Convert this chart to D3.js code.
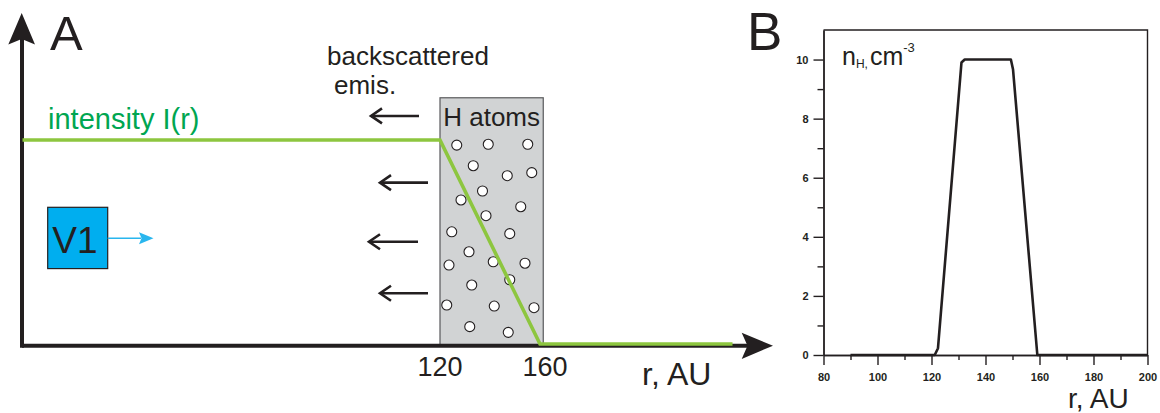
<!DOCTYPE html>
<html>
<head>
<meta charset="utf-8">
<script src="https://cdn.jsdelivr.net/npm/d3@7/dist/d3.min.js"></script>
<style>
html,body{margin:0;padding:0;background:#fff;}
svg{display:block;font-family:"Liberation Sans",Arial,Helvetica,sans-serif;}
</style>
</head>
<body>
<svg id="chart" width="1160" height="413"></svg>
<script>
// ---------- Panel A data (schematic) ----------
const intensityR = [-47, 120, 160, 237];      // r, AU
const intensityI = [1, 1, 0, 0];              // relative intensity
const atomsBoxR = [120, 161.3];               // H atoms region
const atomsBoxTop = 1.207;
const atomR = [126.7,139.3,155.1,133.3,146.9,156.7,137.0,128.4,152.3,138.4,124.7,147.9,131.6,141.3,154.0,123.6,147.9,132.7,122.7,141.7,157.6,131.9,147.3];
const atomH = [0.975,0.979,0.979,0.874,0.825,0.840,0.750,0.706,0.673,0.629,0.550,0.541,0.452,0.403,0.396,0.387,0.315,0.289,0.191,0.186,0.178,0.085,0.057];
const backArrowTipR  = [92.0, 95.6, 91.2, 95.6];
const backArrowTailR = [111.6, 115.2, 111.2, 115.2];
const backArrowH     = [1.118, 0.791, 0.501, 0.249];
const tickLabelsA = ["120", "160"];
const tickValuesA = [120, 160];

// ---------- Panel B data ----------
const nhR = [90, 121.2, 122.4, 131.1, 132.3, 149.4, 150.2, 159.2, 200];
const nhV = [0, 0, 0.23, 9.9, 10, 10, 9.66, 0, 0];
const xTicksB = [80, 100, 120, 140, 160, 180, 200];
const xMinorB = [90, 110, 130, 150, 170, 190];
const yTicksB = [0, 2, 4, 6, 8, 10];
const yMinorB = [1, 3, 5, 7, 9];

const BLACK = "#231f20";
const svg = d3.select("#chart");

// ================= PANEL A =================
const xA = d3.scaleLinear().domain([120, 160]).range([440, 540]);
const yA = d3.scaleLinear().domain([0, 1]).range([344, 140]);
const gA = svg.append("g");

// H atoms box
gA.append("rect")
  .attr("x", xA(atomsBoxR[0])).attr("y", yA(atomsBoxTop))
  .attr("width", xA(atomsBoxR[1]) - xA(atomsBoxR[0]))
  .attr("height", yA(0) - yA(atomsBoxTop) + 1)
  .attr("fill", "#d1d3d4").attr("stroke", "#58595b").attr("stroke-width", 1.2);

gA.append("text").attr("x", (xA(atomsBoxR[0]) + xA(atomsBoxR[1])) / 2).attr("y", 126)
  .attr("text-anchor", "middle").attr("font-size", 26).attr("fill", BLACK).text("H atoms");

// atoms
gA.selectAll("circle.atom").data(atomR.map((r, i) => [r, atomH[i]])).join("circle")
  .attr("class", "atom")
  .attr("cx", d => xA(d[0])).attr("cy", d => yA(d[1])).attr("r", 5)
  .attr("fill", "#fff").attr("stroke", BLACK).attr("stroke-width", 1.1);

// axes (arrows)
gA.append("line").attr("x1", 22).attr("x2", 750).attr("y1", 345.7).attr("y2", 345.7)
  .attr("stroke", BLACK).attr("stroke-width", 4);
gA.append("line").attr("x1", 22).attr("x2", 22).attr("y1", 347.7).attr("y2", 38)
  .attr("stroke", BLACK).attr("stroke-width", 4);
gA.append("path").attr("d", "M21.7,13 L35,44.5 L21.7,39 L8.3,44.5 Z").attr("fill", BLACK);
gA.append("path").attr("d", "M773,345.7 L741.7,332.7 L747.5,345.7 L741.7,359 Z").attr("fill", BLACK);

// intensity line
const lineA = d3.line().x(d => xA(d[0])).y(d => yA(d[1]));
gA.append("path").datum(intensityR.map((r, i) => [r, intensityI[i]]))
  .attr("d", lineA).attr("fill", "none").attr("stroke", "#8dc63f")
  .attr("stroke-width", 3.6).attr("stroke-linejoin", "miter");

gA.append("text").attr("x", 48).attr("y", 129).attr("font-size", 29)
  .attr("fill", "#00a651").text("intensity I(r)");

// backscatter arrows
backArrowH.forEach((h, i) => {
  const y = yA(h), x1 = xA(backArrowTipR[i]), x2 = xA(backArrowTailR[i]);
  gA.append("line").attr("x1", x1 + 1).attr("x2", x2).attr("y1", y).attr("y2", y)
    .attr("stroke", BLACK).attr("stroke-width", 2.6);
  gA.append("path").attr("d", `M${x1 + 12},${y - 7.5} L${x1 + 1},${y} L${x1 + 12},${y + 7.5}`)
    .attr("fill", "none").attr("stroke", BLACK).attr("stroke-width", 2.6);
});

gA.append("text").attr("x", 327).attr("y", 65).attr("font-size", 26).attr("fill", BLACK).text("backscattered");
gA.append("text").attr("x", 334).attr("y", 94).attr("font-size", 26).attr("fill", BLACK).text("emis.");

// V1
gA.append("rect").attr("x", 47.7).attr("y", 207.3).attr("width", 60).attr("height", 61.3)
  .attr("fill", "#00aeef").attr("stroke", BLACK).attr("stroke-width", 1.2);
gA.append("text").attr("x", 75).attr("y", 253.3).attr("text-anchor", "middle")
  .attr("font-size", 37).attr("fill", BLACK).text("V1");
gA.append("line").attr("x1", 107.7).attr("x2", 141).attr("y1", 238.3).attr("y2", 238.3)
  .attr("stroke", "#29b6ee").attr("stroke-width", 1.6);
gA.append("path").attr("d", "M153.5,238.3 L139,232.3 L141.5,238.3 L139,244.3 Z").attr("fill", "#29b6ee");

// tick labels A
gA.selectAll("text.tA").data(tickValuesA).join("text").attr("class", "tA")
  .attr("x", (d, i) => xA(d) + (i === 1 ? 5 : 0)).attr("y", 376)
  .attr("text-anchor", "middle").attr("font-size", 27).attr("fill", BLACK)
  .text((d, i) => tickLabelsA[i]);

gA.append("text").attr("x", 642).attr("y", 385).attr("font-size", 32).attr("fill", BLACK).text("r, AU");
gA.append("text").attr("x", 50).attr("y", 50).attr("font-size", 49).attr("fill", BLACK).text("A");

// ================= PANEL B =================
const xB = d3.scaleLinear().domain([80, 200]).range([823.5, 1147.5]);
const yB = d3.scaleLinear().domain([0, 11]).range([355, 30]);
const gB = svg.append("g");

// box top/right
gB.append("path").attr("d", `M${xB(80)},${yB(11)} H${xB(200)} V${yB(0)}`)
  .attr("fill", "none").attr("stroke", BLACK).attr("stroke-width", 1.4);

const axX = gB.append("g").attr("transform", `translate(0,${yB(0)})`)
  .call(d3.axisBottom(xB).tickValues(xTicksB).tickSize(10).tickSizeOuter(0).tickPadding(8).tickFormat(d3.format("d")));
const axXm = gB.append("g").attr("transform", `translate(0,${yB(0)})`)
  .call(d3.axisBottom(xB).tickValues(xMinorB).tickSize(5).tickSizeOuter(0).tickFormat(""));
const axY = gB.append("g").attr("transform", `translate(${xB(80)},0)`)
  .call(d3.axisLeft(yB).tickValues(yTicksB).tickSize(10).tickSizeOuter(0).tickPadding(5).tickFormat(d3.format("d")));
const axYm = gB.append("g").attr("transform", `translate(${xB(80)},0)`)
  .call(d3.axisLeft(yB).tickValues(yMinorB).tickSize(6).tickSizeOuter(0).tickFormat(""));

[axX, axXm, axY, axYm].forEach(a => {
  a.selectAll("path.domain").attr("stroke", BLACK).attr("stroke-width", 1.4);
  a.selectAll(".tick line").attr("stroke", BLACK).attr("stroke-width", 1.4);
  a.selectAll(".tick text").attr("fill", BLACK).attr("font-size", 11).attr("font-weight", "bold")
    .attr("font-family", "'Liberation Sans',Arial,sans-serif");
});

const lineB = d3.line().x(d => xB(d[0])).y(d => yB(d[1]));
gB.append("path").datum(nhR.map((r, i) => [r, nhV[i]]))
  .attr("d", lineB).attr("fill", "none").attr("stroke", BLACK)
  .attr("stroke-width", 2.6).attr("stroke-linejoin", "round");

// n_H label
const lab = gB.append("text").attr("x", 842).attr("y", 65).attr("font-size", 25).attr("fill", BLACK);
lab.append("tspan").text("n");
lab.append("tspan").attr("font-size", 12).attr("dy", 3).text("H,");
lab.append("tspan").attr("dy", -3).attr("dx", 2).text("cm");
lab.append("tspan").attr("font-size", 13).attr("dy", -13).text("-3");

gB.append("text").attr("x", 1068).attr("y", 408).attr("font-size", 28).attr("fill", BLACK).text("r, AU");
gB.append("text").attr("x", 747).attr("y", 50).attr("font-size", 53).attr("fill", BLACK).text("B");
</script>
</body>
</html>
